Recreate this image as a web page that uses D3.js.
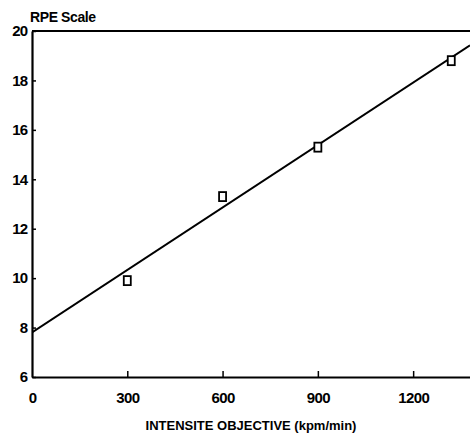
<!DOCTYPE html>
<html>
<head>
<meta charset="utf-8">
<script src="https://cdn.jsdelivr.net/npm/d3@7"></script>
<style>
  html, body { margin: 0; padding: 0; background: #fff; }
  svg text { font-family: "Liberation Sans", Arial, sans-serif; font-weight: bold; fill: #000; }
</style>
</head>
<body>
<svg id="chart" width="470" height="433"></svg>
<script>
// Workload intensity (kpm/min) and measured perceived exertion
const intensity = [300, 600, 900, 1320];
const rpe = [9.9, 13.3, 15.3, 18.8];

// Fitted regression line: RPE = intercept + slope * intensity
const fitIntercept = [7.8];
const fitSlope = [0.00843];

const xTicks = [0, 300, 600, 900, 1200];
const yTicks = [6, 8, 10, 12, 14, 16, 18, 20];

const svg = d3.select("#chart");
const mLeft = 32, mTop = 31, mBottom = 377, mRight = 470;

const x = d3.scaleLinear().domain([0, 1379]).range([mLeft, mRight]);
const y = d3.scaleLinear().domain([6, 20]).range([mBottom, mTop]);

// Frame: top edge
svg.append("line").attr("x1", mLeft).attr("x2", mRight).attr("y1", mTop).attr("y2", mTop)
  .attr("stroke", "#000").attr("stroke-width", 2);

const yAxis = d3.axisLeft(y).tickValues(yTicks).tickFormat(d3.format("d"))
  .tickSize(-4).tickPadding(5).tickSizeOuter(0);
const gy = svg.append("g").attr("transform", `translate(${mLeft},0)`).call(yAxis);
gy.select(".domain").attr("stroke-width", 2.2);
gy.selectAll(".tick line").attr("stroke-width", 1.5);
gy.selectAll(".tick text").attr("font-size", 15).attr("letter-spacing", -1);

const xAxis = d3.axisBottom(x).tickValues(xTicks).tickFormat(d3.format("d"))
  .tickSize(-6).tickPadding(15).tickSizeOuter(0);
const gx = svg.append("g").attr("transform", `translate(0,${mBottom})`).call(xAxis);
gx.select(".domain").attr("stroke-width", 2.2);
gx.selectAll(".tick line").attr("stroke-width", 1.5);
gx.selectAll(".tick").filter(d => d === 0).select("line").remove();
gx.selectAll(".tick text").attr("font-size", 15).attr("letter-spacing", -0.6);
svg.selectAll("g text").attr("font-family", "'Liberation Sans', Arial, sans-serif").attr("font-weight", "bold");

// Axis titles
svg.append("text").attr("x", 30).attr("y", 22).attr("font-size", 14)
  .attr("letter-spacing", -0.4).text("RPE Scale");
svg.append("text").attr("x", 251).attr("y", 430).attr("text-anchor", "middle")
  .attr("font-size", 13).text("INTENSITE OBJECTIVE (kpm/min)");

// Regression line, clipped to the plot area
svg.append("clipPath").attr("id", "plot").append("rect")
  .attr("x", mLeft).attr("y", 0).attr("width", mRight - mLeft).attr("height", mBottom);
const xs = x.domain();
svg.append("line")
  .attr("clip-path", "url(#plot)")
  .attr("x1", x(xs[0])).attr("y1", y(fitIntercept[0] + fitSlope[0] * xs[0]))
  .attr("x2", x(xs[1])).attr("y2", y(fitIntercept[0] + fitSlope[0] * xs[1]))
  .attr("stroke", "#000").attr("stroke-width", 2);

// Observed points as hollow squares
svg.selectAll("rect.pt").data(intensity).join("rect")
  .attr("class", "pt")
  .attr("x", d => x(d) - 3.5)
  .attr("y", (d, i) => y(rpe[i]) - 4.5)
  .attr("width", 7).attr("height", 9)
  .attr("fill", "#fff").attr("stroke", "#000").attr("stroke-width", 1.8);
</script>
</body>
</html>
